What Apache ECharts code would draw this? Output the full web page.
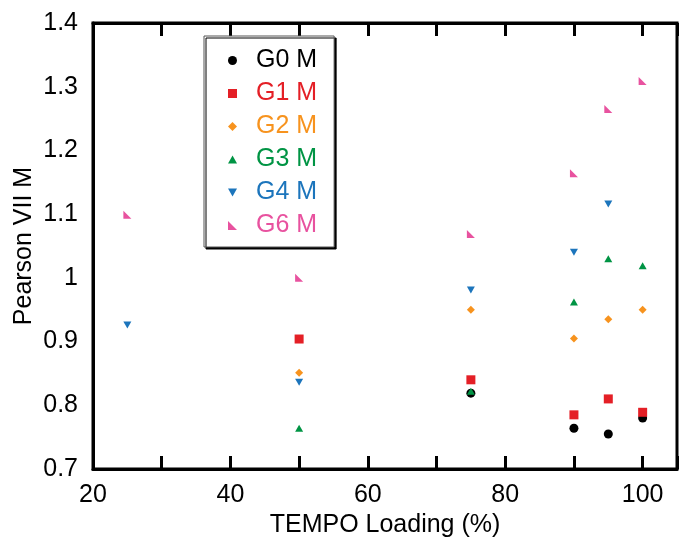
<!DOCTYPE html>
<html>
<head>
<meta charset="utf-8">
<script src="https://cdn.jsdelivr.net/npm/echarts@6/dist/echarts.min.js"></script>
<style>html,body{margin:0;padding:0;background:#fff}#c{width:692px;height:552px}</style>
</head>
<body>
<div id="c"></div>
<script>
var seriesNames = ['G0 M', 'G1 M', 'G2 M', 'G3 M', 'G4 M', 'G6 M'];
var g0 = [[75, 0.819], [90, 0.764], [95, 0.755], [100, 0.780]];
var g1 = [[50, 0.904], [75, 0.840], [90, 0.785], [95, 0.810], [100, 0.789]];
var g2 = [[50, 0.851], [75, 0.950], [90, 0.905], [95, 0.935], [100, 0.950]];
var g3 = [[50, 0.764], [75, 0.822], [90, 0.962], [95, 1.030], [100, 1.019]];
var g4 = [[25, 0.926], [50, 0.836], [75, 0.981], [90, 1.040], [95, 1.116]];
var g6 = [[25, 1.099], [50, 1.000], [75, 1.069], [90, 1.164], [95, 1.265], [100, 1.309]];
var yTicks = ['0.7', '0.8', '0.9', '1', '1.1', '1.2', '1.3', '1.4'];
var xTickLabels = ['20', '40', '60', '80', '100'];

var colors = ['#000000', '#e41f26', '#f7931e', '#009444', '#1c75bc', '#e8529f'];
var rightTri = 'path://M0,0L0,10L10,10Z';
var downTri = 'path://M0,0L10,0L5,9Z';
var upTri = 'path://M5,0L10,9L0,9Z';
var symbols = ['circle', 'rect', 'diamond', upTri, downTri, rightTri];
var sizes = [9, 9, 8, [8, 7], [8, 7], 8];
var dataSets = [g0, g1, g2, g3, g4, g6];
var FONT = "'Liberation Sans', Arial, Helvetica, sans-serif";

var series = seriesNames.map(function (n, i) {
  return {
    name: n, type: 'scatter', data: dataSets[i],
    symbol: symbols[i], symbolSize: sizes[i],
    itemStyle: { color: colors[i], opacity: 1 },
    emphasis: { disabled: true }
  };
});

var xAxisBase = {
  type: 'value', min: 20, max: 105, interval: 10,
  axisLine: { show: true, lineStyle: { color: '#000', width: 3 } },
  axisTick: { show: true, inside: true, length: 13, lineStyle: { color: '#000', width: 3 } },
  splitLine: { show: false }
};

var chart = echarts.init(document.getElementById('c'), null, { renderer: 'canvas' });
chart.setOption({
  animation: false,
  backgroundColor: '#fff',
  textStyle: { fontFamily: FONT },
  grid: { left: 93, top: 23, right: 15, bottom: 83, show: true, borderColor: '#000', borderWidth: 3, backgroundColor: 'transparent' },
  legend: {
    orient: 'vertical', left: 204, top: 36,
    padding: [12, 17, 9, 24],
    itemWidth: 9, itemHeight: 9, itemGap: 8,
    backgroundColor: '#fff', borderColor: '#555', borderWidth: 1,
    shadowColor: '#000', shadowOffsetX: 2, shadowOffsetY: 2, shadowBlur: 0,
    selectedMode: false,
    textStyle: { fontSize: 25, fontFamily: FONT, lineHeight: 24, padding: [0, 0, 0, 14] },
    data: seriesNames.map(function (n, i) {
      return { name: n, icon: symbols[i], itemStyle: { color: colors[i] }, textStyle: { color: colors[i] } };
    })
  },
  xAxis: [
    Object.assign({}, xAxisBase, {
      position: 'bottom',
      name: 'TEMPO Loading (%)', nameLocation: 'middle', nameGap: 42,
      nameTextStyle: { fontSize: 25, color: '#000', fontFamily: FONT },
      axisLabel: {
        show: true, color: '#000', fontSize: 25, margin: 14, fontFamily: FONT,
        formatter: function (v) { return xTickLabels.indexOf(String(v)) >= 0 ? String(v) : ''; }
      }
    }),
    Object.assign({}, xAxisBase, { position: 'top', axisLabel: { show: false } })
  ],
  yAxis: {
    type: 'value', min: 0.7, max: 1.4, interval: 0.1,
    name: 'Pearson VII M', nameLocation: 'middle', nameGap: 56, nameMoveOverlap: false,
    nameTextStyle: { fontSize: 25, color: '#000', fontFamily: FONT },
    axisLine: { show: true, lineStyle: { color: '#000', width: 3 } },
    axisTick: { show: false },
    splitLine: { show: false },
    axisLabel: {
      color: '#000', fontSize: 25, margin: 15, fontFamily: FONT,
      formatter: function (v) {
        var s = String(Math.round(v * 10) / 10);
        return yTicks.indexOf(s) >= 0 ? s : '';
      }
    }
  },
  series: series
});
</script>
</body>
</html>
